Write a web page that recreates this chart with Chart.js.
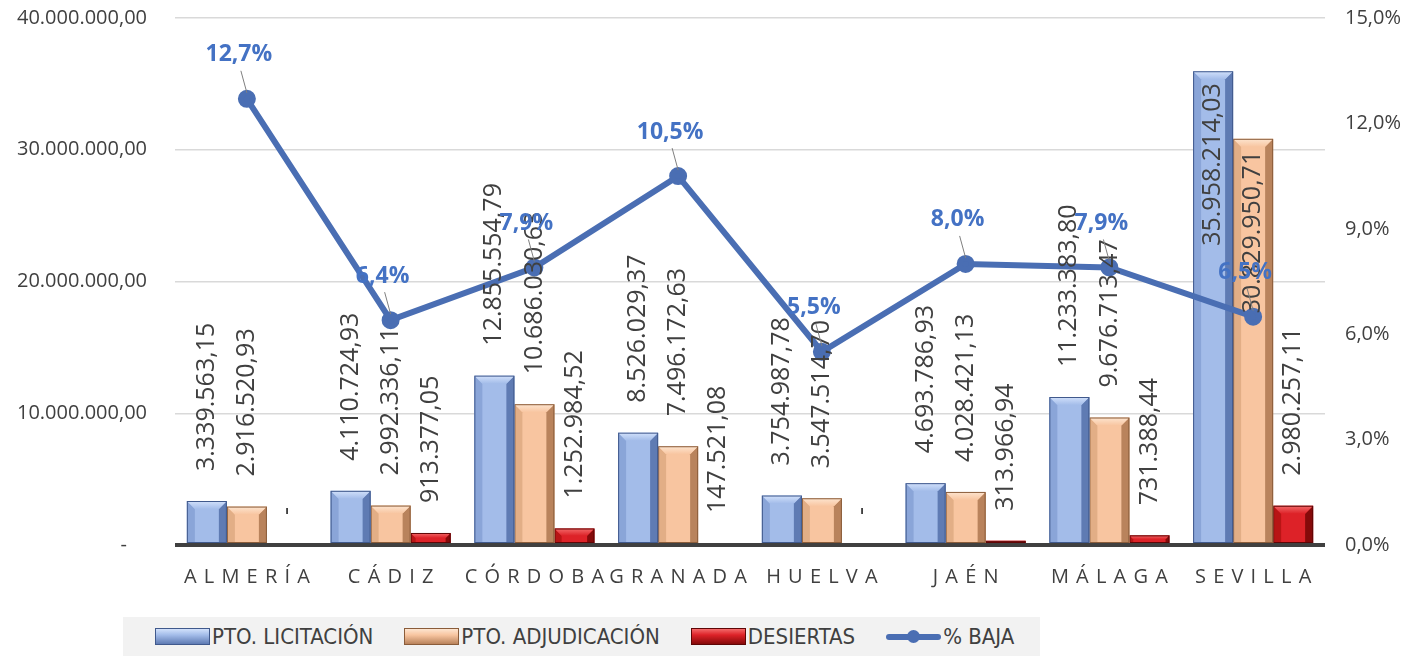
<!DOCTYPE html>
<html>
<head>
<meta charset="utf-8">
<script src="https://cdn.jsdelivr.net/npm/chart.js@4.4.1/dist/chart.umd.min.js"></script>
<style>
  body { margin: 0; background: #fff; }
  #wrap { position: relative; width: 1421px; height: 656px; }
  #legend {
    position: absolute; left: 123px; top: 617px; width: 917px; height: 39px;
    background: #f2f2f2; display: flex; align-items: center; padding-left: 32px; box-sizing: border-box;
    font-family: "Liberation Sans Narrow", "DejaVu Sans Condensed", sans-serif; font-size: 22px; color: #404040;
    white-space: nowrap; overflow: hidden;
  }
  .item { display: flex; align-items: center; margin-right: 31px; flex-shrink: 0; }
  .sw { width: 55px; height: 17px; margin-right: 2px; box-sizing: border-box; }
  .lsw { width: 55px; height: 17px; margin-right: 2px; position: relative; }
  .lsw .ln { position: absolute; left: 0; right: 0; top: 6px; height: 6px; border-radius: 3px; }
  .lsw .dot { position: absolute; left: 21px; top: 2px; width: 13px; height: 13px; border-radius: 50%; }
</style>
</head>
<body>
<div id="wrap">
  <canvas id="chart" width="1421" height="656"></canvas>
  <div id="legend"></div>
</div>
<script>
// data
const categories = ['ALMERÍA', 'CÁDIZ', 'CÓRDOBA', 'GRANADA', 'HUELVA', 'JAÉN', 'MÁLAGA', 'SEVILLA'];
const licitacion = [3339563.15, 4110724.93, 12855554.79, 8526029.37, 3754987.78, 4693786.93, 11233383.80, 35958214.03];
const adjudicacion = [2916520.93, 2992336.11, 10686030.63, 7496172.63, 3547514.70, 4028421.13, 9676713.47, 30829950.71];
const desiertas = [0, 913377.05, 1252984.52, 147521.08, 0, 313966.94, 731388.44, 2980257.11];
const baja = [12.7, 6.4, 7.9, 10.5, 5.5, 8.0, 7.9, 6.5];

// bevel colours for the 3 bar series
const bevels = [
    { face: '#A3BCE9', light: '#D2E1FB', left: '#8AA5D8', right: '#5F7BB3', edge: '#40598C' },
    { face: '#F8C5A0', light: '#FDE5D0', left: '#E2AE86', right: '#B9835C', edge: '#8A5C3A' },
    { face: '#DD2228', light: '#F36A6A', left: '#B81515', right: '#850A0A', edge: '#5E0505' }
];
const lineColor = '#4A6EB3';
const labelBlue = '#4472C4';
const textGray = '#404040';

function fmtMoney(v) {
    if (!v) return '-';
    const parts = v.toFixed(2).split('.');
    return parts[0].replace(/\B(?=(\d{3})+(?!\d))/g, '.') + ',' + parts[1];
}
function fmtPct(v) {
    return v.toFixed(1).replace('.', ',') + '%';
}

// draws the bevelled look on top of each bar
const bevelPlugin = {
    id: 'bevel',
    afterDatasetDraw(chart, args) {
        const ds = chart.data.datasets[args.index];
        if (ds.type === 'line') return;
        const col = bevels[args.index];
        const ctx = chart.ctx;
        args.meta.data.forEach(bar => {
            const p = bar.getProps(['x', 'y', 'base', 'width'], true);
            const l = p.x - p.width / 2, r = p.x + p.width / 2;
            const t = Math.min(p.y, p.base), btm = Math.max(p.y, p.base);
            const h = btm - t;
            if (h < 1) return;
            const b = Math.min(8, h / 2, p.width / 4);
            ctx.save();
            // left strip
            ctx.fillStyle = col.left;
            ctx.beginPath();
            ctx.moveTo(l, t); ctx.lineTo(l + b, t + b); ctx.lineTo(l + b, btm); ctx.lineTo(l, btm);
            ctx.closePath(); ctx.fill();
            // right strip
            ctx.fillStyle = col.right;
            ctx.beginPath();
            ctx.moveTo(r, t); ctx.lineTo(r - b, t + b); ctx.lineTo(r - b, btm); ctx.lineTo(r, btm);
            ctx.closePath(); ctx.fill();
            // top bevel
            const g = ctx.createLinearGradient(0, t, 0, t + b);
            g.addColorStop(0, col.light);
            g.addColorStop(1, col.face);
            ctx.fillStyle = g;
            ctx.beginPath();
            ctx.moveTo(l, t); ctx.lineTo(r, t); ctx.lineTo(r - b, t + b); ctx.lineTo(l + b, t + b);
            ctx.closePath(); ctx.fill();
            ctx.strokeStyle = col.edge;
            ctx.lineWidth = 1;
            ctx.strokeRect(l + 0.5, t + 0.5, p.width - 1, h - 1);
            ctx.restore();
        });
    }
};

// rotated value labels on bars, bold labels on the line
const labelPlugin = {
    id: 'valueLabels',
    afterDatasetsDraw(chart) {
        const ctx = chart.ctx;
        const top = chart.chartArea.top;
        chart.data.datasets.forEach((ds, i) => {
            const meta = chart.getDatasetMeta(i);
            meta.data.forEach((el, j) => {
                const v = ds.data[j];
                ctx.save();
                if (ds.type === 'line') {
                    const txt = fmtPct(v);
                    ctx.font = 'bold 23px "Open Sans"';
                    ctx.fillStyle = labelBlue;
                    ctx.textAlign = 'center';
                    ctx.textBaseline = 'middle';
                    ctx.strokeStyle = '#7f7f7f';
                    ctx.lineWidth = 1;
                    ctx.beginPath();
                    ctx.moveTo(el.x, el.y - 6);
                    ctx.lineTo(el.x - 6, el.y - 28);
                    ctx.stroke();
                    ctx.fillText(txt, el.x - 8, el.y - 44);
                } else {
                    const txt = fmtMoney(v);
                    ctx.font = '25px "Open Sans"';
                    ctx.fillStyle = textGray;
                    const w = ctx.measureText(txt).width;
                    const gap = 30;
                    let start = el.y - gap;
                    ctx.translate(el.x, 0);
                    ctx.rotate(-Math.PI / 2);
                    ctx.textBaseline = 'middle';
                    if (start - w < top) {
                        // too tall: put the label inside the bar
                        ctx.textAlign = 'right';
                        ctx.fillText(txt, -(el.y + 12), 0);
                    } else {
                        ctx.textAlign = 'left';
                        ctx.fillText(txt, -start, 0);
                    }
                }
                ctx.restore();
            });
        });
    }
};

function noPad(scale) {
    scale.paddingTop = 0;
    scale.paddingBottom = 0;
}

const chart = new Chart(document.getElementById('chart'), {
    type: 'bar',
    data: {
        labels: categories,
        datasets: [
            { label: 'PTO. LICITACIÓN', data: licitacion, backgroundColor: bevels[0].face, yAxisID: 'y', order: 1 },
            { label: 'PTO. ADJUDICACIÓN', data: adjudicacion, backgroundColor: bevels[1].face, yAxisID: 'y', order: 1 },
            { label: 'DESIERTAS', data: desiertas, backgroundColor: bevels[2].face, yAxisID: 'y', order: 1 },
            {
                type: 'line', label: '% BAJA', data: baja, yAxisID: 'y1', order: 0,
                borderColor: lineColor, borderWidth: 6, pointRadius: 6,
                pointBackgroundColor: lineColor, pointBorderColor: lineColor, tension: 0
            }
        ]
    },
    options: {
        responsive: false,
        animation: false,
        categoryPercentage: 0.835,
        barPercentage: 1.0,
        layout: { padding: { top: 18, left: 0, right: 0, bottom: 0 } },
        plugins: {
            legend: { display: false },
            tooltip: { enabled: false }
        },
        scales: {
            x: {
                grid: { display: false, drawTicks: false },
                border: { display: false },
                ticks: {
                    color: textGray,
                    font: { family: 'Open Sans', size: 20 },
                    padding: 20,
                    maxRotation: 0,
                    minRotation: 0,
                    autoSkip: false,
                    callback: function(val) {
                        return this.getLabelForValue(val).split('').join(' \u200A');
                    }
                },
                afterFit(scale) { scale.height = 111; }
            },
            y: {
                position: 'left',
                min: 0, max: 40000000,
                border: { display: false },
                grid: {
                    drawTicks: false,
                    color: c => c.tick.value === 0 ? '#404040' : '#d9d9d9',
                    lineWidth: c => c.tick.value === 0 ? 4 : 1.5
                },
                ticks: {
                    stepSize: 10000000,
                    color: textGray,
                    font: { family: 'Open Sans', size: 20 },
                    padding: 28,
                    // accounting style: the zero dash sits a little left
                    callback: v => v === 0 ? '-\u2003' : fmtMoney(v)
                },
                afterFit(scale) { scale.width = 175; noPad(scale); }
            },
            y1: {
                position: 'right',
                min: 0, max: 15,
                border: { display: false },
                grid: { drawOnChartArea: false, drawTicks: false },
                ticks: {
                    stepSize: 3,
                    color: textGray,
                    font: { family: 'Open Sans', size: 20 },
                    padding: 20,
                    callback: v => fmtPct(v)
                },
                afterFit(scale) { scale.width = 96; noPad(scale); }
            }
        }
    },
    plugins: [bevelPlugin, labelPlugin]
});

// html legend built from the datasets
const legendEl = document.getElementById('legend');
chart.data.datasets.forEach((ds, i) => {
    const item = document.createElement('div');
    item.className = 'item';
    let sw;
    if (ds.type === 'line') {
        sw = document.createElement('div');
        sw.className = 'lsw';
        sw.innerHTML = '<div class="ln" style="background:' + lineColor + '"></div><div class="dot" style="background:' + lineColor + '"></div>';
    } else {
        const c = bevels[i];
        sw = document.createElement('div');
        sw.className = 'sw';
        sw.style.background = 'linear-gradient(to bottom, ' + c.light + ' 0%, ' + c.face + ' 40%, ' + c.right + ' 100%)';
        sw.style.border = '1px solid ' + c.edge;
    }
    const span = document.createElement('span');
    span.textContent = ds.label;
    item.appendChild(sw);
    item.appendChild(span);
    legendEl.appendChild(item);
});
</script>
</body>
</html>
